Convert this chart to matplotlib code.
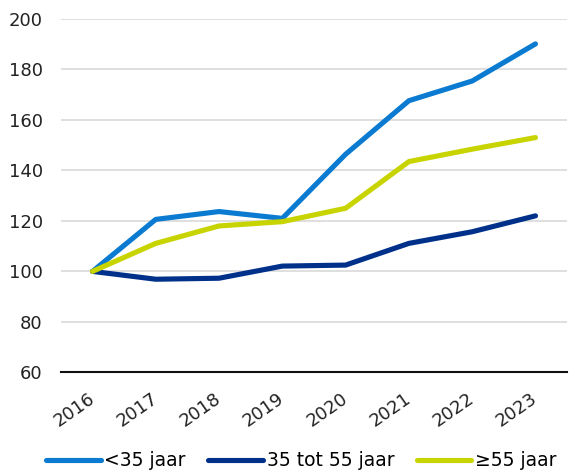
import matplotlib
matplotlib.use("Agg")
import matplotlib.pyplot as plt
from matplotlib.transforms import ScaledTranslation

years = ["2016", "2017", "2018", "2019", "2020", "2021", "2022", "2023"]
under35 = [100, 120.6, 123.7, 121.0, 146.4, 167.6, 175.4, 190.1]
mid35_55 = [100, 96.9, 97.3, 102.1, 102.5, 111.1, 115.7, 122.0]
over55 = [100, 111.1, 118.0, 119.7, 125.0, 143.5, 148.4, 153.0]
labels = ["<35 jaar", "35 tot 55 jaar", "≥55 jaar"]
yticks = [60, 80, 100, 120, 140, 160, 180, 200]

plt.rcParams['font.family'] = ['DejaVu Sans']
fig = plt.figure(figsize=(5.74, 4.72), dpi=100)
ax = fig.add_axes([0.106, 0.211, 0.882, 0.749])

x = range(len(years))
colors = ["#0A7BD0", "#00318A", "#C8D400"]
for vals, c, lab in zip([under35, mid35_55, over55], colors, labels):
    ax.plot(x, vals, color=c, lw=3.7, solid_capstyle='round', solid_joinstyle='round', label=lab)

ax.set_ylim(60, 200)
ax.set_xlim(-0.5, 7.5)
ax.set_yticks(yticks)
ax.set_xticks(list(x))
ax.set_xticklabels(years, rotation=35, ha='right', rotation_mode='anchor')
ax.tick_params(axis='both', length=0, labelsize=13, colors='#222222')
ax.tick_params(axis='x', pad=12)
ax.tick_params(axis='y', pad=13)
offset = ScaledTranslation(-5 / 100, 0, fig.dpi_scale_trans)
for lab in ax.get_xticklabels():
    lab.set_transform(lab.get_transform() + offset)
ax.grid(axis='y', color='#d9d9d9', lw=1.2)
ax.set_axisbelow(True)
for s in ['left', 'right', 'top']:
    ax.spines[s].set_visible(False)
ax.spines['bottom'].set_color('#111111')
ax.spines['bottom'].set_linewidth(1.5)

fig.legend(loc='center', bbox_to_anchor=(0.525, 0.024), ncol=3, frameon=False,
           fontsize=13.5, handlelength=2.9, handletextpad=0.2, columnspacing=1.2,
           borderaxespad=0)

fig.savefig("out.png", dpi=100)
